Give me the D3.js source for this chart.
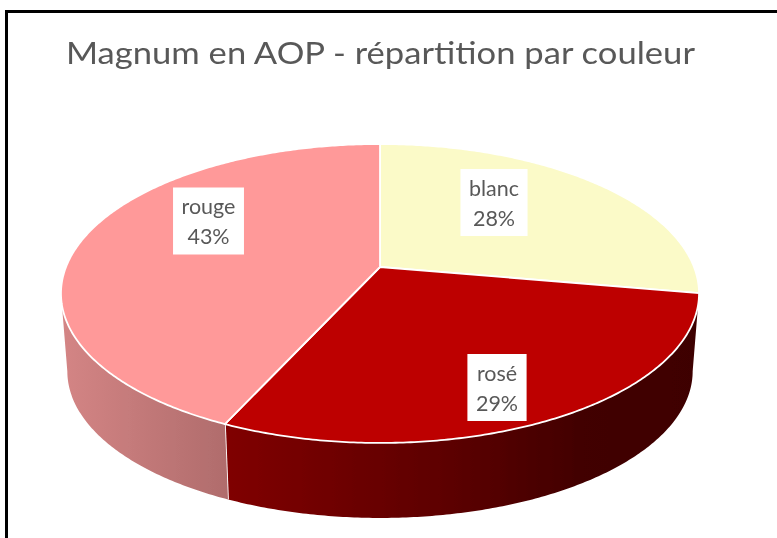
<!DOCTYPE html>
<html><head><meta charset="utf-8">
<script src="https://cdn.jsdelivr.net/npm/d3@7"></script>
<style>html,body{margin:0;padding:0;background:#fff}svg{display:block}</style>
</head><body><div id="c"></div>
<script>
const title = "Magnum en AOP - répartition par couleur";
const categories = ["blanc","rosé","rouge"];
const values = [27.8,29.0,43.2];
const colors = ["#FBFAC8","#BD0000","#FF9999"];
const wallStops = [null,
  [["0%","#800000"],["45%","#5e0000"],["75%","#420000"],["100%","#3e0000"]],
  [["0%","#d48585"],["100%","#b06c6c"]]];
const labelPos = [[494,202.5],[497,387.5],[208.5,221]];

const W=777,H=538;
const svg=d3.select("#c").append("svg").attr("width",W).attr("height",H);
const defs=svg.append("defs");
defs.append("filter").attr("id","soft").attr("filterUnits","userSpaceOnUse")
  .attr("x",0).attr("y",0).attr("width",W).attr("height",H)
  .append("feGaussianBlur").attr("stdDeviation",0.7);

// perspective projection of the disc
const cx=380, apexY=267, R=314, k=144.8, p=0.177;
const project=(a,s=1,dy=0)=>{
  const x=Math.sin(a), y=-Math.cos(a), w=1-p*y;
  return [cx+s*R*x/w, apexY+dy+s*k*y/w];
};
const depthScale=0.98, depthDy=78.5;

const pie=d3.pie().sort(null).value(d=>d).startAngle(0).endAngle(2*Math.PI);
const arcs=pie(values);
const samples=(a0,a1)=>{const n=Math.max(2,Math.ceil((a1-a0)/0.01));return d3.range(n+1).map(i=>a0+(a1-a0)*i/n);};
const line=d3.line();

// frame
svg.append("path").attr("d",`M6.5,${H}V11.5H${W}`).attr("fill","none").attr("stroke","#000").attr("stroke-width",3);

const chart=svg.append("g").attr("filter","url(#soft)");

// walls
const tangent=Math.acos(-p), tangentL=2*Math.PI-tangent;
arcs.forEach((d,i)=>{
  if(!wallStops[i])return;
  const a0=Math.max(d.startAngle,tangent), a1=Math.min(d.endAngle,tangentL);
  const top=samples(a0,a1).map(a=>project(a));
  const bot=samples(a0,a1).reverse().map(a=>project(a,depthScale,depthDy));
  const pts=top.concat(bot);
  const xs=d3.extent(pts,q=>q[0]);
  const g=defs.append("linearGradient").attr("id","w"+i).attr("gradientUnits","userSpaceOnUse")
    .attr("x1",xs[0]).attr("x2",xs[1]).attr("y1",0).attr("y2",0);
  g.selectAll("stop").data(wallStops[i]).join("stop").attr("offset",s=>s[0]).attr("stop-color",s=>s[1]);
  chart.append("path").attr("d",line(pts)+"Z").attr("fill",`url(#w${i})`);
  if(i===1){
    const e=d.endAngle;
    chart.append("path").attr("d",line([project(e),project(e,depthScale,depthDy)]))
      .attr("stroke","#fff").attr("stroke-width",1.8).attr("fill","none");
  }
});

// top faces
chart.selectAll("path.slice").data(arcs).join("path").attr("class","slice")
  .attr("d",d=>line([[cx,apexY],...samples(d.startAngle,d.endAngle).map(a=>project(a))])+"Z")
  .attr("fill",(d,i)=>colors[i]).attr("stroke","#fff").attr("stroke-width",1.8).attr("stroke-linejoin","round");

// labels
const font="Lato,'Open Sans',sans-serif";
const lab=svg.append("g").attr("filter","url(#soft)");
categories.forEach((c,i)=>{
  const [x,y]=labelPos[i];
  const r=lab.append("rect").attr("fill","#fff");
  const t=lab.append("text").attr("text-anchor","middle").attr("font-family",font).attr("font-size",21.5).attr("fill","#595959");
  t.append("tspan").attr("x",x).attr("y",y-7).text(c);
  t.append("tspan").attr("x",x).attr("y",y+23).text(Math.round(values[i])+"%");
  const tw=t.node().getBBox().width;
  r.attr("x",x-tw/2-8.5).attr("y",y-33.5).attr("width",tw+17).attr("height",67);
});

lab.append("text").attr("x",66).attr("y",64).attr("font-family",font).attr("font-size",31).attr("fill","#595959")
  .attr("textLength",629).attr("lengthAdjust","spacingAndGlyphs").text(title);
</script></body></html>
